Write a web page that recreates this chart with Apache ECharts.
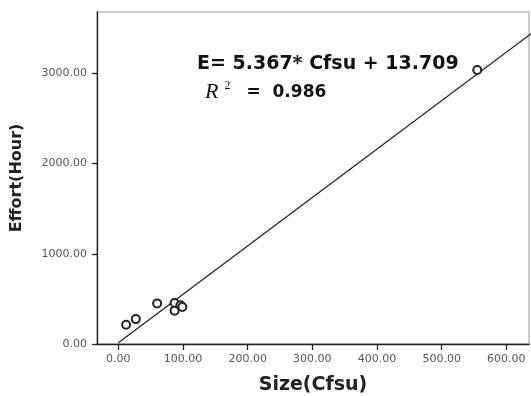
<!DOCTYPE html>
<html>
<head>
<meta charset="utf-8">
<script src="https://cdn.jsdelivr.net/npm/echarts@6/dist/echarts.min.js"></script>
<style>
html,body{margin:0;padding:0;background:#fff;}
#c{width:531px;height:396px;}
</style>
</head>
<body>
<div id="c"></div>
<script>
// Observed points (Size in Cfsu, Effort in hours)
var sizeCfsu = [12, 27, 60, 87, 87, 96, 99, 555];
var effortHour = [213, 276, 450, 454, 369, 430, 410, 3038];
// Fitted line endpoints: E = 5.367*Cfsu + 13.709
var fitX = [0, 650];
var fitY = [13.709, 3502.3];
var xTicks = [0, 100, 200, 300, 400, 500, 600];
var yTicks = [0, 1000, 2000, 3000];
var eqText = 'E= 5.367* Cfsu + 13.709';
var r2Value = '0.986';

var points = sizeCfsu.map(function (x, i) { return [x, effortHour[i]]; });
var fitLine = fitX.map(function (x, i) { return [x, fitY[i]]; });

var chart = echarts.init(document.getElementById('c'), null, {renderer: 'canvas'});
var labelStyle = {color: '#555', fontFamily: 'DejaVu Sans', fontSize: 11};
chart.setOption({
  animation: false,
  backgroundColor: '#fff',
  grid: {left: 97, top: 12, right: 2, bottom: 52, show: true, borderColor: '#999', borderWidth: 1,
         outerBoundsMode: 'none', containLabel: false},
  xAxis: {
    type: 'value', min: -33, max: 635,
    name: 'Size(Cfsu)', nameLocation: 'middle', nameGap: 32,
    nameTextStyle: {fontFamily: 'DejaVu Sans', fontWeight: 'bold', fontSize: 19, color: '#222'},
    axisLine: {show: true, onZero: false, lineStyle: {color: '#222', width: 1.3}},
    axisTick: {show: true, length: 6, customValues: xTicks, lineStyle: {color: '#222', width: 1.3}},
    axisLabel: Object.assign({customValues: xTicks, margin: 10, formatter: function (v) { return v.toFixed(2); }}, labelStyle),
    splitLine: {show: false}
  },
  yAxis: {
    type: 'value', min: 0, max: 3680,
    name: 'Effort(Hour)', nameLocation: 'middle', nameGap: 72,
    nameTextStyle: {fontFamily: 'DejaVu Sans', fontWeight: 'bold', fontSize: 16, color: '#222'},
    axisLine: {show: true, onZero: false, lineStyle: {color: '#222', width: 1.3}},
    axisTick: {show: true, length: 5, customValues: yTicks, lineStyle: {color: '#222', width: 1.3}},
    axisLabel: Object.assign({customValues: yTicks, margin: 10, formatter: function (v) { return v.toFixed(2); }}, labelStyle),
    splitLine: {show: false}
  },
  graphic: [
    {type: 'text', left: 197, top: 55, style: {text: eqText, font: 'bold 19px "DejaVu Sans"', fill: '#111'}},
    {type: 'text', left: 205, top: 80, style: {
      text: '{r|R}{s|2}{e|=  ' + r2Value + '}',
      rich: {
        r: {font: 'italic 22px "Liberation Serif"', fill: '#111'},
        s: {font: '12px "Liberation Serif"', fill: '#111', verticalAlign: 'top', padding: [0, 0, 13, 6]},
        e: {font: 'bold 17px "DejaVu Sans"', fill: '#111', padding: [0, 0, 0, 16]}
      }
    }}
  ],
  series: [
    {type: 'line', data: fitLine, symbol: 'none', clip: true, lineStyle: {color: '#222', width: 1.3}, z: 2},
    {type: 'scatter', data: points, symbol: 'emptyCircle', symbolSize: 8,
     itemStyle: {color: '#222', borderColor: '#222', borderWidth: 1.3, opacity: 1}, z: 3}
  ]
});
</script>
</body>
</html>
